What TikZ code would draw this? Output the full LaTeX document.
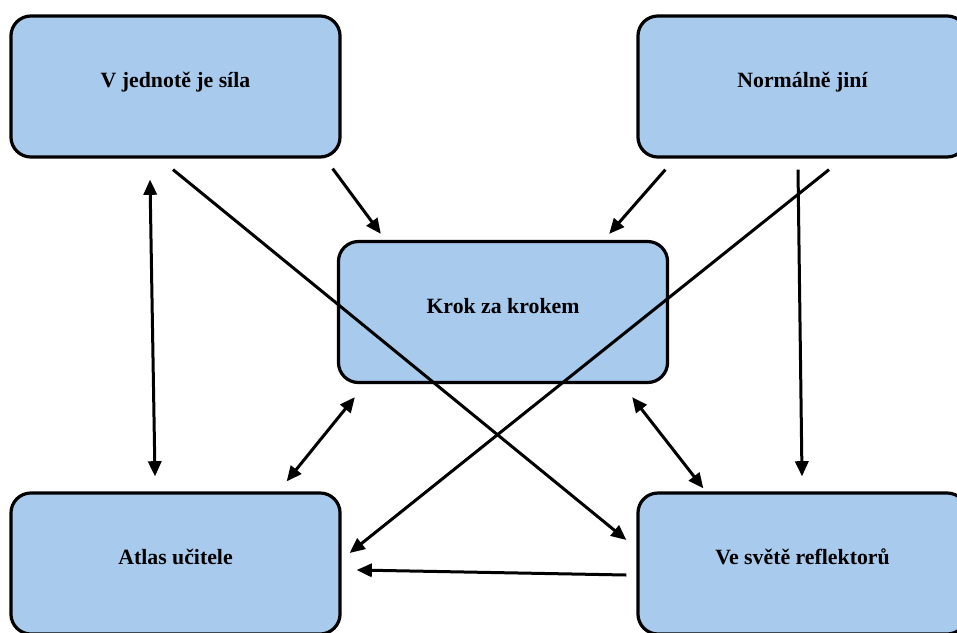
\documentclass[tikz,border=0pt]{standalone}
\usepackage{fontspec}
\setmainfont{Liberation Serif}
\usetikzlibrary{arrows.meta,calc}
\definecolor{BoxBlue}{HTML}{A8CAEC}
\definecolor{Ink}{HTML}{000000}

\begin{document}
\begin{tikzpicture}[x=0.025cm,y=-0.025cm,
  box/.style={rounded corners=0.5cm,draw=Ink,fill=BoxBlue,line width=0.08cm,minimum width=8.225cm,minimum height=3.525cm,font=\fontsize{15.5}{18}\selectfont\bfseries,text height=0.4cm,text depth=0.34cm},
  arrow/.style={-{Triangle[length=0.38cm,width=0.33cm]},line width=0.075cm,draw=Ink},
  twoway/.style={{Triangle[length=0.38cm,width=0.33cm]}-{Triangle[length=0.38cm,width=0.33cm]},line width=0.075cm,draw=Ink}
]
\path[use as bounding box,clip] (0,0) rectangle (957,632);
\node[box] (jednota) at (175.5,86.5) {V jednotě je síla};
\node[box] (jini) at (802.5,86.5) {Normálně jiní};
\node[box] (krok) at (503,312) {Krok za krokem};
\node[box] (atlas) at (175.5,563.5) {Atlas učitele};
\node[box] (reflektor) at (802.5,563.5) {Ve světě reflektorů};
% into the middle
\draw[arrow] ($(jednota.south east)+(-9,10)$) -- ($(krok.north west)+(44,-6)$);
\draw[arrow] ($(jini.south west)+(29,11)$) -- ($(krok.north east)+(-60,-6)$);
% crossing lines
\draw[arrow] ($(jednota.south)+(-2.5,11)$) -- ($(reflektor.west)+(-10,-23.5)$);
\draw[arrow] ($(jini.south)+(26.5,11)$) -- ($(atlas.east)+(8,-10.5)$);
% verticals
\draw[twoway] ($(jednota.south)+(-25.5,21)$) -- ($(atlas.north)+(-20.5,-15)$);
\draw[arrow] ($(jini.south)+(-4.5,11)$) -- ($(reflektor.north)+(-0.5,-15)$);
% from the middle down
\draw[twoway] ($(krok.south west)+(18,13)$) -- ($(atlas.north east)+(-55,-10)$);
\draw[twoway] ($(krok.south east)+(-37,13)$) -- ($(reflektor.north west)+(67,-3)$);
% bottom row
\draw[arrow] ($(reflektor.west)+(-10,11.5)$) -- ($(atlas.east)+(15,6.5)$);
\end{tikzpicture}
\end{document}
